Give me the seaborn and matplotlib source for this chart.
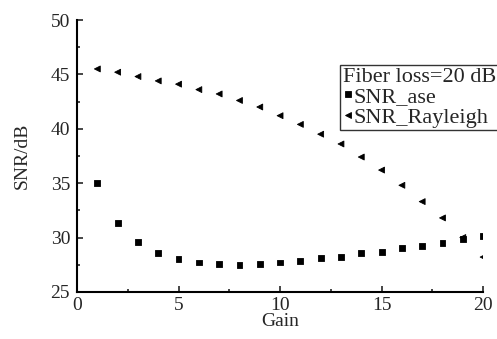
import matplotlib
matplotlib.use("Agg")
import matplotlib.pyplot as plt
import seaborn as sns
import pandas as pd
from matplotlib.ticker import MultipleLocator

gain = list(range(1, 21))
snr_ase = [35.0, 31.3, 29.6, 28.6, 28.0, 27.7, 27.6, 27.45, 27.55, 27.7,
           27.85, 28.1, 28.2, 28.55, 28.7, 29.0, 29.2, 29.5, 29.9, 30.1]
snr_rayleigh = [45.5, 45.2, 44.8, 44.4, 44.1, 43.6, 43.2, 42.6, 42.0, 41.2,
                40.4, 39.5, 38.6, 37.4, 36.2, 34.8, 33.3, 31.8, 30.0, 28.2]

sns.set_style("ticks")
plt.rcParams['font.family'] = ['Liberation Serif', 'DejaVu Serif']

df = pd.DataFrame({
    "Gain": gain * 2,
    "SNR": snr_ase + snr_rayleigh,
    "series": ["SNR_ase"] * len(gain) + ["SNR_Rayleigh"] * len(gain),
})

fig = plt.figure(figsize=(4.97, 3.39), dpi=100)
ax = fig.add_axes([0.155, 0.139, 0.817, 0.802])

sns.scatterplot(data=df, x="Gain", y="SNR", hue="series", style="series",
                markers={"SNR_ase": "s", "SNR_Rayleigh": "<"},
                palette={"SNR_ase": "black", "SNR_Rayleigh": "black"},
                s=18, edgecolor="black", linewidth=0.6, ax=ax, legend=True)

ax.set_xlim(0, 20)
ax.set_ylim(25, 50)
ax.xaxis.set_major_locator(MultipleLocator(5))
ax.xaxis.set_minor_locator(MultipleLocator(2.5))
ax.yaxis.set_major_locator(MultipleLocator(5))
ax.yaxis.set_minor_locator(MultipleLocator(2.5))
ax.tick_params(which="major", direction="in", length=4, width=1.2, labelsize=14)
ax.tick_params(axis="x", which="major", pad=4)
ax.tick_params(axis="y", which="major", pad=5)
ax.tick_params(which="minor", direction="in", length=2, width=1.2)
for s in ["top", "right"]:
    ax.spines[s].set_visible(False)
for s in ["left", "bottom"]:
    ax.spines[s].set_linewidth(1.5)
    ax.spines[s].set_color("black")

ax.set_xlabel("Gain", fontsize=14, labelpad=-1)
ax.set_ylabel("SNR/dB", fontsize=14, labelpad=14)

handles, labels = ax.get_legend_handles_labels()
leg = ax.legend(handles, labels, title="Fiber loss=20 dB", loc="upper right",
                bbox_to_anchor=(499 / 497, 274 / 339), bbox_transform=fig.transFigure,
                frameon=True, fancybox=False,
                fontsize=16, title_fontsize=16, handlelength=0.4,
                handletextpad=0.05, borderpad=0.12, labelspacing=0.0,
                borderaxespad=0, markerscale=1.0)
leg.get_frame().set_edgecolor("black")
leg.get_frame().set_linewidth(1.0)
leg._legend_box.align = "left"
leg._legend_box.sep = 0

fig.savefig("out.png", dpi=100)
